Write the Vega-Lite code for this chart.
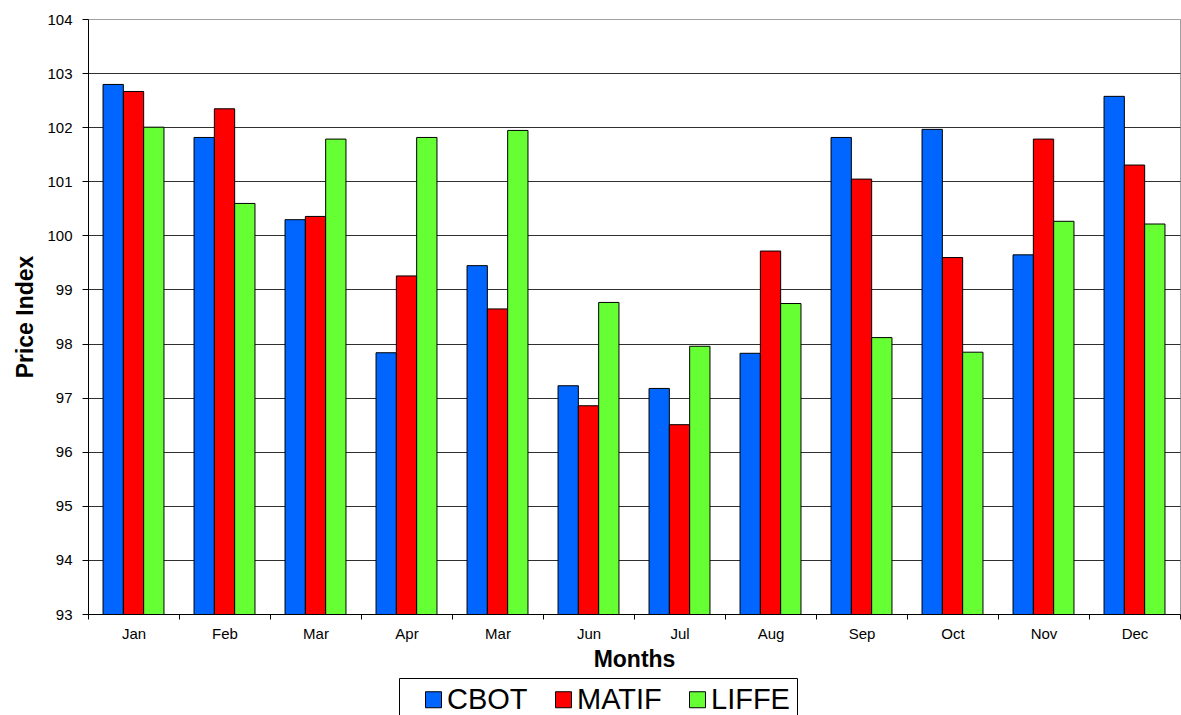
{
  "$schema": "https://vega.github.io/schema/vega-lite/v6.json",
  "width": 1092,
  "height": 595,
  "autosize": {"type": "none"},
  "padding": {"left": 88, "top": 19, "right": 1, "bottom": 101},
  "background": "white",
  "config": {
    "font": "Liberation Sans",
    "view": {"stroke": "#a0a0a0", "strokeWidth": 1}
  },
  "data": {
    "values": [
      {"slot": 1, "month": "Jan", "exchange": "CBOT", "value": 102.79},
      {"slot": 1, "month": "Jan", "exchange": "MATIF", "value": 102.66},
      {"slot": 1, "month": "Jan", "exchange": "LIFFE", "value": 102.0},
      {"slot": 2, "month": "Feb", "exchange": "CBOT", "value": 101.81},
      {"slot": 2, "month": "Feb", "exchange": "MATIF", "value": 102.34},
      {"slot": 2, "month": "Feb", "exchange": "LIFFE", "value": 100.59},
      {"slot": 3, "month": "Mar", "exchange": "CBOT", "value": 100.29},
      {"slot": 3, "month": "Mar", "exchange": "MATIF", "value": 100.35},
      {"slot": 3, "month": "Mar", "exchange": "LIFFE", "value": 101.78},
      {"slot": 4, "month": "Apr", "exchange": "CBOT", "value": 97.83},
      {"slot": 4, "month": "Apr", "exchange": "MATIF", "value": 99.25},
      {"slot": 4, "month": "Apr", "exchange": "LIFFE", "value": 101.81},
      {"slot": 5, "month": "Mar", "exchange": "CBOT", "value": 99.44},
      {"slot": 5, "month": "Mar", "exchange": "MATIF", "value": 98.64},
      {"slot": 5, "month": "Mar", "exchange": "LIFFE", "value": 101.94},
      {"slot": 6, "month": "Jun", "exchange": "CBOT", "value": 97.22},
      {"slot": 6, "month": "Jun", "exchange": "MATIF", "value": 96.85},
      {"slot": 6, "month": "Jun", "exchange": "LIFFE", "value": 98.76},
      {"slot": 7, "month": "Jul", "exchange": "CBOT", "value": 97.17},
      {"slot": 7, "month": "Jul", "exchange": "MATIF", "value": 96.5},
      {"slot": 7, "month": "Jul", "exchange": "LIFFE", "value": 97.95},
      {"slot": 8, "month": "Aug", "exchange": "CBOT", "value": 97.82},
      {"slot": 8, "month": "Aug", "exchange": "MATIF", "value": 99.71},
      {"slot": 8, "month": "Aug", "exchange": "LIFFE", "value": 98.74},
      {"slot": 9, "month": "Sep", "exchange": "CBOT", "value": 101.81},
      {"slot": 9, "month": "Sep", "exchange": "MATIF", "value": 101.04},
      {"slot": 9, "month": "Sep", "exchange": "LIFFE", "value": 98.11},
      {"slot": 10, "month": "Oct", "exchange": "CBOT", "value": 101.96},
      {"slot": 10, "month": "Oct", "exchange": "MATIF", "value": 99.59},
      {"slot": 10, "month": "Oct", "exchange": "LIFFE", "value": 97.84},
      {"slot": 11, "month": "Nov", "exchange": "CBOT", "value": 99.64},
      {"slot": 11, "month": "Nov", "exchange": "MATIF", "value": 101.78},
      {"slot": 11, "month": "Nov", "exchange": "LIFFE", "value": 100.26},
      {"slot": 12, "month": "Dec", "exchange": "CBOT", "value": 102.57},
      {"slot": 12, "month": "Dec", "exchange": "MATIF", "value": 101.3},
      {"slot": 12, "month": "Dec", "exchange": "LIFFE", "value": 100.21}
    ]
  },
  "mark": {"type": "bar", "stroke": "#000000", "strokeWidth": 1, "clip": true},
  "encoding": {
    "x": {
      "field": "slot",
      "type": "ordinal",
      "scale": {"paddingInner": 0, "paddingOuter": 0},
      "axis": {
        "title": "Months",
        "labelExpr": "['Jan','Feb','Mar','Apr','Mar','Jun','Jul','Aug','Sep','Oct','Nov','Dec'][datum.value - 1]",
        "labelAngle": 0,
        "labelFontSize": 15,
        "labelColor": "#000000",
        "labelPadding": 7,
        "tickBand": "extent",
        "tickSize": 5,
        "tickColor": "#000000",
        "domainColor": "#000000",
        "titleFontSize": 23,
        "titleFontWeight": "bold",
        "titleColor": "#000000",
        "titlePadding": 7,
        "grid": false
      }
    },
    "xOffset": {
      "field": "exchange",
      "sort": ["CBOT", "MATIF", "LIFFE"],
      "scale": {"paddingInner": 0, "paddingOuter": 0.74}
    },
    "y": {
      "field": "value",
      "type": "quantitative",
      "scale": {"domain": [93, 104], "nice": false, "zero": false},
      "axis": {
        "title": "Price Index",
        "values": [93, 94, 95, 96, 97, 98, 99, 100, 101, 102, 103, 104],
        "labelFontSize": 15,
        "labelColor": "#000000",
        "labelPadding": 10,
        "tickSize": 6,
        "tickColor": "#000000",
        "domainColor": "#000000",
        "grid": true,
        "gridColor": {"condition": {"test": "datum.value == 104", "value": "#a0a0a0"}, "value": "#303030"},
        "titleFontSize": 23,
        "titleFontWeight": "bold",
        "titleColor": "#000000",
        "titlePadding": 9
      }
    },
    "color": {
      "field": "exchange",
      "type": "nominal",
      "scale": {"domain": ["CBOT", "MATIF", "LIFFE"], "range": ["#0066ff", "#ff0000", "#66ff33"]},
      "legend": {
        "title": null,
        "orient": "none",
        "legendX": 311,
        "legendY": 659,
        "direction": "horizontal",
        "symbolType": "square",
        "symbolSize": 256,
        "symbolStrokeColor": "#000000",
        "symbolStrokeWidth": 1,
        "symbolOpacity": 1,
        "symbolOffset": 13,
        "labelOffset": -1,
        "labelFontSize": 29,
        "labelColor": "#000000",
        "labelLimit": 300,
        "columnPadding": 8,
        "padding": 7,
        "strokeColor": "#000000",
        "fillColor": "#ffffff"
      }
    }
  }
}
